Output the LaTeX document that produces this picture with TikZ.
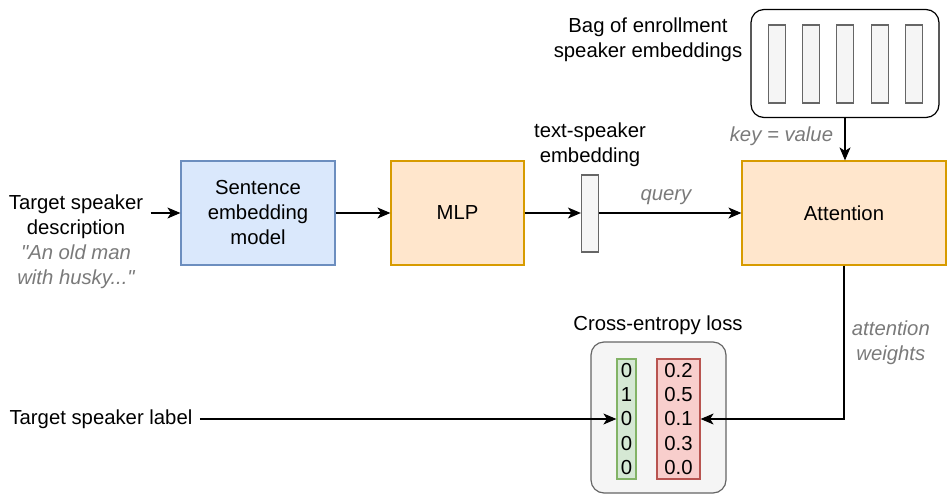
\documentclass[tikz,border=0pt]{standalone}
\usepackage{fontspec}
\setmainfont{Liberation Sans}
\usetikzlibrary{arrows.meta}

\definecolor{blueFill}{HTML}{DAE8FC}
\definecolor{blueLine}{HTML}{6C8EBF}
\definecolor{orangeFill}{HTML}{FFE6CC}
\definecolor{orangeLine}{HTML}{D79B00}
\definecolor{greyFill}{HTML}{F5F5F5}
\definecolor{greyLine}{HTML}{666666}
\definecolor{greenFill}{HTML}{D5E8D4}
\definecolor{greenLine}{HTML}{82B366}
\definecolor{redFill}{HTML}{F8CECC}
\definecolor{redLine}{HTML}{B85450}
\definecolor{labelGrey}{HTML}{7A7A7A}

\tikzset{
  box/.style={draw, line width=1.2pt, inner sep=0pt, align=center},
  vec/.style={draw=greyLine, fill=greyFill, line width=1.2pt, inner sep=0pt,
    minimum width=17pt},
  edge label/.style={text=labelGrey, font=\fontsize{20.3}{25}\selectfont\itshape, align=center},
  arr/.style={-{Stealth[length=13pt,width=11pt,inset=3.5pt]}, line width=1.2pt},
}

\begin{document}
\begin{tikzpicture}[x=1pt, y=-1pt, font=\fontsize{20.3}{25}\selectfont]
    \useasboundingbox (0,0) rectangle (948,496);

    \node[box, fill=blueFill, draw=blueLine, minimum width=154pt, minimum height=104pt] (sent) at (258,213) {Sentence\\embedding\\model};
    \node[box, fill=orangeFill, draw=orangeLine, minimum width=133pt, minimum height=104pt] (mlp) at (457.5,213) {MLP};
    \node[vec, minimum height=77pt] (emb) at (590,213.5) {};
    \node[box, fill=orangeFill, draw=orangeLine, minimum width=204pt, minimum height=104pt] (att) at (844,213) {Attention};

    \node[align=center] (desc) at (76,216.5) {Target speaker\\description};
    \node[edge label] (example) at (76,266.5) {\textquotedbl An old man\\with husky...\textquotedbl};
    \node[align=center] (embtitle) at (590,145) {text-speaker\\embedding};

    % enrollment bag
    \node[box, draw=black, rounded corners=13pt, minimum width=188pt, minimum height=108pt] (bag) at (845,63.5) {};
    \node[vec, minimum height=78pt] (enr1) at (777,64) {};
    \node[vec, minimum height=78pt] (enr2) at (811,64) {};
    \node[vec, minimum height=78pt] (enr3) at (845,64) {};
    \node[vec, minimum height=78pt] (enr4) at (880,64) {};
    \node[vec, minimum height=78pt] (enr5) at (914,64) {};
    \node[align=center] (bagtitle) at (648,40) {Bag of enrollment\\speaker embeddings};

    % loss
    \node[box, draw=greyLine, fill=greyFill, rounded corners=13pt, minimum width=135pt, minimum height=151pt] (loss) at (658.5,417.5) {};
    \node[box, draw=greenLine, fill=greenFill, minimum width=19pt, minimum height=120pt, font=\fontsize{20.3}{24.3}\selectfont] (target) at (626.5,419) {0\\1\\0\\0\\0};
    \node[box, draw=redLine, fill=redFill, minimum width=43pt, minimum height=120pt, font=\fontsize{20.3}{24.3}\selectfont] (pred) at (678.5,419) {0.2\\0.5\\0.1\\0.3\\0.0};
    \node (losstitle) at (658,325) {Cross-entropy loss};
    \node[anchor=west] (label) at (6,419) {Target speaker label};

    \draw[arr] ([xshift=4pt]desc.east |- sent.west) -- (sent.west);
    \draw[arr] (sent) -- (mlp);
    \draw[arr] (mlp.east) -- (emb.west |- mlp.east);
    \draw[arr] (emb.east |- att.west) -- (att.west) node[edge label, pos=0.47, above=4pt] {query};
    \draw[arr] (bag.south) -- (bag.south |- att.north) node[edge label, pos=0.42, left=8pt] {key = value};
    \draw[arr] (att.south) |- (pred.east) node[edge label, pos=0.25, right=4pt] {attention\\weights};
    \draw[arr] ([xshift=4pt]label.east) -- (target.west);
\end{tikzpicture}
\end{document}
